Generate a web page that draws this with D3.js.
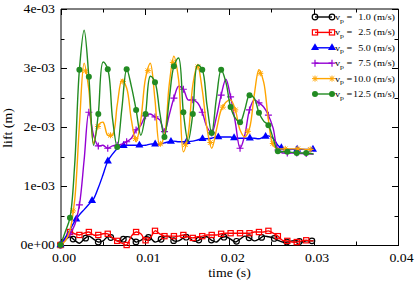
<!DOCTYPE html>
<html>
<head>
<meta charset="utf-8">
<script src="https://cdn.jsdelivr.net/npm/d3@7"></script>
<style>
html, body { margin: 0; padding: 0; background: #fff; }
svg { display: block; }
text { font-family: "Liberation Serif", "DejaVu Serif", Times, serif; }
</style>
</head>
<body>
<svg id="chart" width="415" height="282"></svg>
<script>
// sample times (ms)
const timeMs = [0,0.56,1.12,1.68,2.24,2.80,3.36,3.92,4.48,5.04,5.60,6.16,6.72,7.28,7.84,8.40,8.96,9.52,10.08,10.64,
  11.20,11.76,12.32,12.88,13.44,14.00,14.56,15.12,15.68,16.24,16.80,17.36,17.92,18.48,19.04,19.60,20.16,20.72,21.28,21.84,
  22.40,22.96,23.52,24.08,24.64,25.20,25.76,26.32,26.88,27.44,28.00,28.56,29.12,29.68,30.00];

// lift in 1e-3 m, one list per plate speed
const lift1_0 = [0,0.08,0.14,0.08,0.03,0.10,0.15,0.10,0.05,0.07,0.14,0.12,0.07,0.08,0.14,0.12,0.05,0.08,0.14,0.12,
  0.05,0.08,0.14,0.14,0.07,0.07,0.12,0.14,0.07,0.07,0.12,0.14,0.08,0.05,0.12,0.14,0.10,0.05,0.10,0.15,
  0.12,0.07,0.10,0.15,0.14,0.12,0.08,0.05,0.05,0.07,0.07,0.05,0.07,0.07,0.07];
const lift2_5 = [0,0.12,0.22,0.19,0.17,0.20,0.22,0.17,0.17,0.19,0.19,0.12,0.07,0.03,0.00,0.15,0.22,0.19,0.08,0.12,
  0.24,0.19,0.15,0.15,0.15,0.15,0.17,0.14,0.12,0.14,0.15,0.17,0.17,0.17,0.19,0.20,0.20,0.20,0.20,0.20,
  0.20,0.22,0.22,0.22,0.24,0.20,0.15,0.08,0.07,0.05,0.05,0.07,0.08,0.07,0.07];
const lift5_0 = [0,0.12,0.26,0.40,0.51,0.60,0.69,0.78,0.97,1.19,1.42,1.54,1.63,1.68,1.69,1.69,1.69,1.69,1.69,1.71,
  1.71,1.71,1.73,1.75,1.76,1.75,1.75,1.75,1.76,1.78,1.80,1.80,1.81,1.83,1.83,1.83,1.83,1.81,1.81,1.81,
  1.81,1.81,1.80,1.83,1.85,1.81,1.69,1.63,1.62,1.62,1.62,1.62,1.62,1.62,1.62];
const lift7_5 = [0,0.08,0.19,0.34,0.68,1.44,2.25,1.86,1.68,1.69,1.64,1.68,1.69,1.71,1.75,1.81,1.95,2.03,2.19,2.22,
  2.17,2.12,1.92,2.20,2.49,2.69,2.64,2.46,2.46,2.41,2.25,2.00,1.90,2.17,2.54,2.81,2.51,2.08,1.64,1.86,
  2.29,2.46,2.41,2.34,2.20,1.98,1.61,1.56,1.56,1.56,1.56,1.55,1.55,1.54,1.54];
const lift10_0 = [0,0.07,0.25,0.76,2.03,3.08,2.63,1.72,2.03,2.08,1.86,1.86,2.37,2.80,2.66,2.12,1.75,2.12,2.83,3.08,
  2.46,1.69,1.86,2.71,3.20,2.80,1.58,1.86,2.71,3.05,2.63,1.98,1.64,1.95,2.29,2.42,2.46,2.29,1.95,1.83,
  1.98,2.54,2.97,2.76,2.12,1.69,1.63,1.63,1.63,1.63,1.63,1.63,1.62,1.62,1.62];
const lift12_5 = [0,0.22,0.46,1.36,2.97,3.64,2.85,1.69,2.22,3.10,2.98,2.15,1.66,2.32,2.98,2.69,2.29,1.86,2.22,2.86,
  2.76,2.25,1.83,2.46,3.03,3.17,2.25,1.76,2.22,3.05,2.97,2.37,1.90,2.49,2.97,2.76,2.34,2.15,2.08,2.29,
  2.54,2.49,2.24,2.10,2.03,1.81,1.59,1.58,1.58,1.57,1.56,1.56,1.56,1.55,1.54];

const speedLabels = ['1.0', '2.5', '5.0', '7.5', '10.0', '12.5'];
const xTicks = [0, 0.01, 0.02, 0.03, 0.04];
const xTickLabels = ['0.00', '0.01', '0.02', '0.03', '0.04'];
const yTicks = [0, 0.001, 0.002, 0.003, 0.004];
const yTickLabels = ['0e+00', '1e-03', '2e-03', '3e-03', '4e-03'];

const series = [
  { values: lift1_0,  color: '#000000', marker: 'circle',   every: 1.49 },
  { values: lift2_5,  color: '#ff0000', marker: 'square',   every: 1.12 },
  { values: lift5_0,  color: '#0000ff', marker: 'triangle', every: 1.87 },
  { values: lift7_5,  color: '#9400d3', marker: 'plus',     every: 1.12 },
  { values: lift10_0, color: '#ffa500', marker: 'star',     every: 1.48 },
  { values: lift12_5, color: '#228b22', marker: 'dot',      every: 1.12 }
];

const FONT = '"Liberation Serif", "DejaVu Serif", Times, serif';
const svg = d3.select('#chart');
const x = d3.scaleLinear().domain([0, 0.04]).range([60.5, 398]);
const y = d3.scaleLinear().domain([0, 0.004]).range([245, 9]);
const SX = 1.2; // glyphs in the original are stretched sideways

function label(px, py, txt, anchor, size, rot) {
  return svg.append('text')
    .attr('transform', `translate(${px},${py})` + (rot ? ` rotate(${rot})` : '') + ` scale(${SX},1)`)
    .attr('text-anchor', anchor)
    .attr('font-family', FONT)
    .style('font-size', size + 'px')
    .text(txt);
}

// ticks, all four sides, pointing inward
const tk = svg.append('g').attr('stroke', '#000').attr('stroke-width', 1);
d3.range(0, 0.04001, 0.005).forEach((t, i) => {
  const len = i % 2 ? 3.5 : 6;
  const px = Math.round(x(t)) + 0.5;
  tk.append('line').attr('x1', px).attr('x2', px).attr('y1', 245).attr('y2', 245 - len);
  tk.append('line').attr('x1', px).attr('x2', px).attr('y1', 9).attr('y2', 9 + len);
});
d3.range(0, 0.004001, 0.0005).forEach((v, i) => {
  const len = i % 2 ? 3.5 : 6;
  const py = Math.round(y(v)) + 0.5;
  tk.append('line').attr('y1', py).attr('y2', py).attr('x1', 61).attr('x2', 61 + len);
  tk.append('line').attr('y1', py).attr('y2', py).attr('x1', 398).attr('x2', 398 - len);
});

// border
svg.append('line').attr('x1', 61).attr('x2', 61).attr('y1', 9).attr('y2', 246).attr('stroke', '#000');
svg.append('line').attr('x1', 61).attr('x2', 398.5).attr('y1', 9).attr('y2', 9).attr('stroke', '#000');
svg.append('line').attr('x1', 398.5).attr('x2', 398.5).attr('y1', 9).attr('y2', 246).attr('stroke', '#000');
svg.append('line').attr('x1', 61).attr('x2', 398.5).attr('y1', 245.5).attr('y2', 245.5).attr('stroke', '#000');

xTicks.forEach((t, i) => label(x(t) + 3.5, 261.5, xTickLabels[i], 'middle', 11.5));
yTicks.forEach((v, i) => label(55, y(v) + 4, yTickLabels[i], 'end', 11.5));
label(229.5, 277, 'time (s)', 'middle', 11.5);
label(12, 128, 'lift (m)', 'middle', 11.5, -90);

function drawMarker(g, type, color, cx, cy) {
  if (type === 'circle') {
    g.append('circle').attr('cx', cx).attr('cy', cy).attr('r', 2.8)
      .attr('fill', 'none').attr('stroke', color).attr('stroke-width', 1.2);
  } else if (type === 'dot') {
    g.append('circle').attr('cx', cx).attr('cy', cy).attr('r', 3).attr('fill', color);
  } else if (type === 'square') {
    g.append('rect').attr('x', cx - 2.6).attr('y', cy - 2.6).attr('width', 5.2).attr('height', 5.2)
      .attr('fill', 'none').attr('stroke', color).attr('stroke-width', 1.2);
  } else if (type === 'triangle') {
    g.append('path').attr('transform', `translate(${cx},${cy})`)
      .attr('d', d3.symbol(d3.symbolTriangle, 28)()).attr('fill', color);
  } else if (type === 'plus') {
    g.append('path').attr('d', `M${cx - 3.5},${cy}H${cx + 3.5}M${cx},${cy - 3.5}V${cy + 3.5}`)
      .attr('stroke', color).attr('stroke-width', 1.2);
  } else if (type === 'star') {
    g.append('path').attr('d', `M${cx - 3},${cy}H${cx + 3}M${cx},${cy - 3}V${cy + 3}` +
      `M${cx - 2.3},${cy - 2.3}L${cx + 2.3},${cy + 2.3}M${cx - 2.3},${cy + 2.3}L${cx + 2.3},${cy - 2.3}`)
      .attr('stroke', color).attr('stroke-width', 1);
  }
}

const line = d3.line()
  .x(d => x(d[0]))
  .y(d => y(d[1]))
  .curve(d3.curveCatmullRom.alpha(0.5));

series.forEach(s => {
  const pts = timeMs.map((t, i) => [t / 1000, s.values[i] / 1000]);
  const g = svg.append('g');
  g.append('path').datum(pts).attr('d', line)
    .attr('fill', 'none').attr('stroke', s.color).attr('stroke-width', 1.4);
  // markers every few samples along the curve
  const along = d3.scaleLinear().domain(timeMs).range(s.values);
  for (let t = 0; t <= timeMs[timeMs.length - 1] + 1e-9; t += s.every) {
    drawMarker(g, s.marker, s.color, x(t / 1000), y(along(t) / 1000));
  }
});

// legend
series.forEach((s, i) => {
  const ry = 17 + i * 15.4;
  const g = svg.append('g');
  g.append('line').attr('x1', 315).attr('x2', 332).attr('y1', ry).attr('y2', ry)
    .attr('stroke', s.color).attr('stroke-width', 1.4);
  drawMarker(g, s.marker, s.color, 315, ry);
  drawMarker(g, s.marker, s.color, 332, ry);
  const t = svg.append('text')
    .attr('transform', `translate(335,${ry + 3}) scale(${SX},1)`)
    .attr('font-family', FONT)
    .style('font-size', '8.5px');
  t.append('tspan').text('v');
  t.append('tspan').attr('dy', 2.5).style('font-size', '6.5px').text('p');
  t.append('tspan').attr('dy', -2.5).text(' =');
  label(395, ry + 3, speedLabels[i] + ' (m/s)', 'end', 8.5);
});
</script>
</body>
</html>
